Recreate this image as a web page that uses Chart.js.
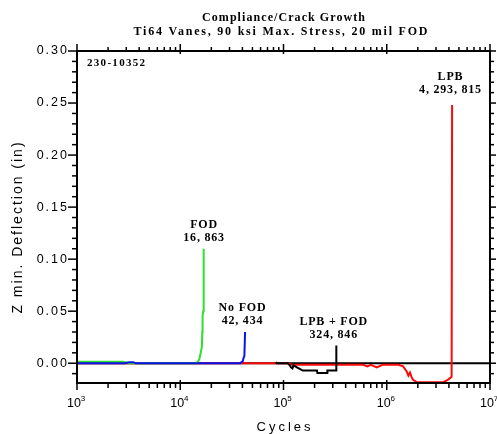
<!DOCTYPE html>
<html lang="en">
<head>
  <meta charset="UTF-8">
  <title>Compliance/Crack Growth</title>
  <style>
    html, body { margin: 0; padding: 0; background: #fff; }
    #wrap { width: 497px; height: 434px; }
  </style>
</head>
<body>
  <div id="wrap"><canvas id="myChart" width="497" height="434"></canvas></div>

  <script src="https://cdn.jsdelivr.net/npm/chart.js"></script>
  <script>
    // chart text
    const titleLines = ['Compliance/Crack Growth', 'Ti64 Vanes, 90 ksi Max. Stress, 20 mil FOD'];
    const specimenId = '230-10352';
    const xTitle = 'Cycles';
    const yTitle = 'Z min. Deflection (in)';

    // tick labels
    const xDecades = [1e3, 1e4, 1e5, 1e6, 1e7];
    const xExponents = ['3', '4', '5', '6', '7'];
    const yTicks = [0, 0.05, 0.10, 0.15, 0.20, 0.25, 0.30];

    // FOD (green)
    const fodCycles = [1000, 2800, 3200, 10000, 13800, 14800, 15300, 15700, 16200, 16350, 16450, 16700, 16863];
    const fodDefl   = [0.0015, 0.0015, 0, 0, 0, 0.001, 0.004, 0.009, 0.016, 0.030, 0.045, 0.050, 0.110];
    const fodLabel  = ['FOD', '16, 863'];

    // No FOD (blue)
    const noFodCycles = [1000, 2900, 3200, 3500, 3700, 10000, 38000, 40300, 41000, 41800, 42434];
    const noFodDefl   = [0, 0, 0.001, 0.001, 0, 0, 0, 0.002, 0.005, 0.007, 0.030];
    const noFodLabel  = ['No FOD', '42, 434'];

    // LPB (red)
    const lpbCycles = [1000, 40000, 110000, 120000, 300000, 590000, 650000, 700000, 800000, 910000,
                       1000000, 1300000, 1440000, 1560000, 1620000, 1680000, 1750000, 1800000, 1950000,
                       3000000, 3530000, 3900000, 4250000, 4293815];
    const lpbDefl   = [0, 0, 0, -0.0015, -0.0015, -0.0015, -0.003, -0.0015, -0.004, -0.0015,
                       -0.0015, -0.0015, -0.003, -0.008, -0.012, -0.009, -0.014, -0.016, -0.0182,
                       -0.0182, -0.0182, -0.016, -0.013, 0.248];
    const lpbLabel  = ['LPB', '4, 293, 815'];

    // LPB + FOD (black)
    const lpbFodCycles = [84000, 86000, 110000, 115000, 118000, 122000, 125000, 135000, 154000, 211000,
                          213000, 264000, 266000, 320000, 324846, 324846];
    const lpbFodDefl   = [0.001, 0, 0, -0.002, -0.004, -0.005, -0.002, -0.004, -0.007, -0.007,
                          -0.0095, -0.0095, -0.007, -0.007, -0.007, 0.017];
    const lpbFodLabel  = ['LPB + FOD', '324, 846'];

    // zero reference line
    const zeroCycles = [1000, 10000000];
    const zeroDefl   = [0, 0];

    const pts = (xs, ys) => xs.map((v, i) => ({ x: v, y: ys[i] }));

    function drawText(ctx, txt, x, y, font, align, spacing) {
      ctx.font = font;
      ctx.letterSpacing = (spacing || 0) + 'px';
      ctx.textAlign = align || 'center';
      ctx.textBaseline = 'middle';
      let dx = 0;
      if (spacing && align === 'center') dx = spacing / 2;
      if (spacing && align === 'right') dx = spacing;
      ctx.fillText(txt, x + dx, y);
      ctx.letterSpacing = '0px';
    }

    // spread a line of text out to a given width (the title font is nearly fixed-pitch)
    function drawSpread(ctx, txt, cx, y, font, width) {
      ctx.font = font;
      ctx.letterSpacing = '0px';
      const w = ctx.measureText(txt).width;
      const sp = Math.max(0, (width - w) / (txt.length - 1));
      drawText(ctx, txt, cx, y, font, 'center', sp);
    }

    function seg(ctx, x1, y1, x2, y2) {
      ctx.beginPath();
      ctx.moveTo(x1, y1);
      ctx.lineTo(x2, y2);
      ctx.stroke();
    }

    const frame = {
      id: 'frame',
      afterDraw(chart) {
        const { ctx, chartArea: a, scales: { x, y } } = chart;
        const mid = (a.left + a.right) / 2;
        ctx.save();
        ctx.fillStyle = '#000';
        ctx.strokeStyle = '#000';

        // box
        ctx.lineWidth = 2;
        ctx.strokeRect(a.left, a.top, a.right - a.left, a.bottom - a.top);

        // x ticks (bottom and top, outward)
        ctx.lineWidth = 1.5;
        xDecades.forEach(base => {
          for (let m = 1; m <= 9; m++) {
            const v = base * m;
            if (v > x.max) break;
            const px = x.getPixelForValue(v);
            const major = m === 1;
            seg(ctx, px, a.bottom - (major ? 3 : 0), px, a.bottom + (major ? 7 : 5));
            seg(ctx, px, a.top + (major ? 3 : 0), px, a.top - (major ? 7 : 4));
          }
        });

        // y ticks every 0.01
        for (let i = -1; i <= 30; i++) {
          const v = i / 100;
          const py = y.getPixelForValue(v);
          const major = i % 5 === 0;
          seg(ctx, a.left, py, a.left - (major ? 9 : 5), py);
          seg(ctx, a.right, py, a.right + (major ? 6 : 4), py);
        }

        // x tick labels 10^n
        xDecades.forEach((v, i) => {
          const px = x.getPixelForValue(v);
          drawText(ctx, '10', px - 3, 404, '12.5px "Liberation Sans", Arial, sans-serif', 'center', 0);
          drawText(ctx, xExponents[i], px + 6, 399, '8px "Liberation Sans", Arial, sans-serif', 'center', 0);
        });

        // y tick labels
        yTicks.forEach(v => {
          const py = y.getPixelForValue(v);
          drawText(ctx, v.toFixed(2), 67, py, '12.5px "Liberation Sans", Arial, sans-serif', 'right', 2);
        });

        // axis titles
        drawText(ctx, xTitle, mid, 427, '13px "Liberation Sans", Arial, sans-serif', 'center', 3);
        ctx.save();
        ctx.translate(18, 228);
        ctx.rotate(-Math.PI / 2);
        drawText(ctx, yTitle, 0, 0, '14px "Liberation Sans", Arial, sans-serif', 'center', 2);
        ctx.restore();

        // chart title
        const tf = 'bold 12px "Liberation Serif", "Times New Roman", serif';
        drawSpread(ctx, titleLines[0], mid, 18, tf, 163);
        drawSpread(ctx, titleLines[1], mid - 3, 32, tf, 294);

        // specimen id
        drawText(ctx, specimenId, a.left + 10, 63, 'bold 11px "Liberation Serif", serif', 'left', 1.3);

        // series labels above each peak
        const af = 'bold 12px "Liberation Serif", serif';
        const notes = [
          [fodCycles, fodDefl, fodLabel, 0],
          [noFodCycles, noFodDefl, noFodLabel, -3],
          [lpbFodCycles, lpbFodDefl, lpbFodLabel, -3],
          [lpbCycles, lpbDefl, lpbLabel, -2]
        ];
        notes.forEach(([xs, ys, lab, dx]) => {
          const n = xs.length - 1;
          const px = x.getPixelForValue(xs[n]);
          const py = y.getPixelForValue(ys[n]);
          const off = lab === lpbLabel ? 15 : 11;
          drawText(ctx, lab[0], px + dx, py - off - 13, af, 'center', 0.8);
          drawText(ctx, lab[1], px + dx, py - off, af, 'center', 0.8);
        });

        ctx.restore();
      }
    };

    const line = (data, color) => ({
      data: data,
      showLine: true,
      borderColor: color,
      backgroundColor: color,
      borderWidth: 2,
      pointRadius: 0,
      tension: 0
    });

    new Chart(document.getElementById('myChart'), {
      type: 'scatter',
      data: {
        datasets: [
          line(pts(noFodCycles, noFodDefl), '#0a14e6'),
          line(pts(fodCycles, fodDefl), '#2ee02e'),
          line(pts(lpbFodCycles, lpbFodDefl), '#000000'),
          line(pts(lpbCycles, lpbDefl), '#ff0a0a'),
          line(pts(zeroCycles, zeroDefl), '#000000')
        ]
      },
      options: {
        responsive: false,
        animation: false,
        layout: { padding: { left: 77, right: 7, top: 51, bottom: 51 } },
        plugins: { legend: { display: false }, tooltip: { enabled: false } },
        scales: {
          x: { type: 'logarithmic', min: 1e3, max: 1e7, display: false },
          y: { type: 'linear', min: -0.019, max: 0.30, display: false }
        }
      },
      plugins: [frame]
    });
  </script>
</body>
</html>
